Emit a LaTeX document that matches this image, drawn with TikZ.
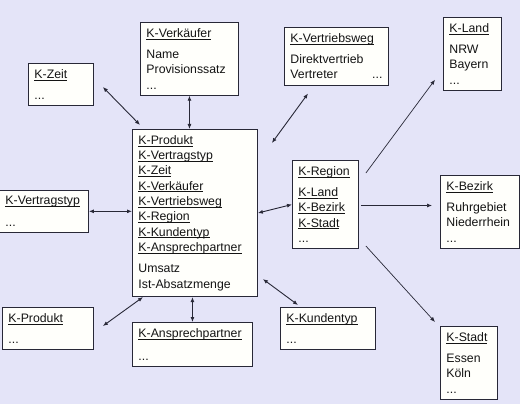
\documentclass[tikz,border=0pt]{standalone}
\usepackage{fontspec}
\setmainfont{Liberation Sans}
\usetikzlibrary{arrows.meta,calc}
\definecolor{bgcol}{RGB}{228,228,248}
\definecolor{boxfill}{RGB}{255,255,251}
\definecolor{linecol}{RGB}{40,40,55}
\tikzset{
  dimblk/.style={draw=linecol,fill=boxfill,line width=0.9pt,anchor=north west,align=left,inner xsep=6pt,inner ysep=6pt,text=black!92,font=\fontsize{12.3}{15.3}\selectfont},
  darr/.style={{Latex[length=5pt,width=4pt]}-{Latex[length=5pt,width=4pt]},line width=0.9pt,draw=linecol},
  arr/.style={-{Latex[length=5pt,width=4pt]},line width=0.7pt,draw=linecol}
}
\begin{document}
\begin{tikzpicture}[x=1pt,y=-1pt]
  \useasboundingbox (0,0) rectangle (520,404);
  \fill[bgcol] (0,0) rectangle (520,404);

  % Fact table
  \node[dimblk, text width=113pt] (fakt) at (132,129) {\underbar{K-Produkt}\\ \underbar{K-Vertragstyp}\\ \underbar{K-Zeit}\\ \underbar{K-Verkäufer}\\ \underbar{K-Vertriebsweg}\\ \underbar{K-Region}\\ \underbar{K-Kundentyp}\\ \underbar{K-Ansprechpartner}\\[6pt] Umsatz\\ Ist-Absatzmenge};

  % Dimension tables
  \node[dimblk, text width=53pt] (zeit) at (28,63) {\underbar{K-Zeit}\\[6pt] ...};
  \node[dimblk, text width=86pt] (verk) at (140,22) {\underbar{K-Verkäufer}\\[6pt] Name\\ Provisionssatz\\ ...};
  \node[dimblk, text width=92pt] (vweg) at (284,27) {\underbar{K-Vertriebsweg}\\[6pt] Direktvertrieb\\ Vertreter\hfill ...};
  \node[dimblk, text width=77pt] (vtyp) at (-1,190) {\underbar{K-Vertragstyp}\\[6pt] ...};
  \node[dimblk, text width=79pt] (produkt) at (2,307) {\underbar{K-Produkt}\\[6pt] ...};
  \node[dimblk, text width=108pt] (ansp) at (132,322) {\underbar{K-Ansprechpartner}\\[8pt] ...};
  \node[dimblk, text width=83pt] (kunde) at (280,307) {\underbar{K-Kundentyp}\\[6pt] ...};

  % Region hierarchy
  \node[dimblk, text width=54pt] (region) at (292,160) {\underbar{K-Region}\\[6pt] \underbar{K-Land}\\ \underbar{K-Bezirk}\\ \underbar{K-Stadt}\\ ...};
  \node[dimblk, text width=46pt] (land) at (443,17) {\underbar{K-Land}\\[6pt] NRW\\ Bayern\\ ...};
  \node[dimblk, text width=67pt] (bezirk) at (440,175) {\underbar{K-Bezirk}\\[6pt] Ruhrgebiet\\ Niederrhein\\ ...};
  \node[dimblk, text width=45pt] (stadt) at (440,326) {\underbar{K-Stadt}\\[6pt] Essen\\ Köln\\ ...};

  % Connections to the fact table
  \draw[darr] ($(zeit.east)+(9,2.5)$) -- ($(fakt.north west)+(8,-4)$);
  \draw[darr] (verk.south) -- (verk.south |- fakt.north);
  \draw[darr] ($(vweg.south west)+(24,8)$) -- ($(fakt.north east)+(14,14)$);
  \draw[darr] (vtyp.east) -- (vtyp.east -| fakt.west);
  \draw[darr] (fakt.east) -- (region.west);
  \draw[darr] ($(fakt.south east)+(5,-18)$) -- ($(kunde.north west)+(18,-2)$);
  \draw[darr] ($(fakt.south west)+(11,0)$) -- ($(produkt.north east)+(9,19)$);
  \draw[darr] (ansp.north) -- (ansp.north |- fakt.south);

  % Region levels
  \draw[arr] ($(region.north east)+(7,13)$) -- ($(land.south west)+(-8,-11)$);
  \draw[arr] ($(region.east)+(2,1)$) -- ($(region.east -| bezirk.west)+(-8,1)$);
  \draw[arr] ($(region.south east)+(7,-3)$) -- ($(stadt.north west)+(-5,-4)$);
\end{tikzpicture}
\end{document}
